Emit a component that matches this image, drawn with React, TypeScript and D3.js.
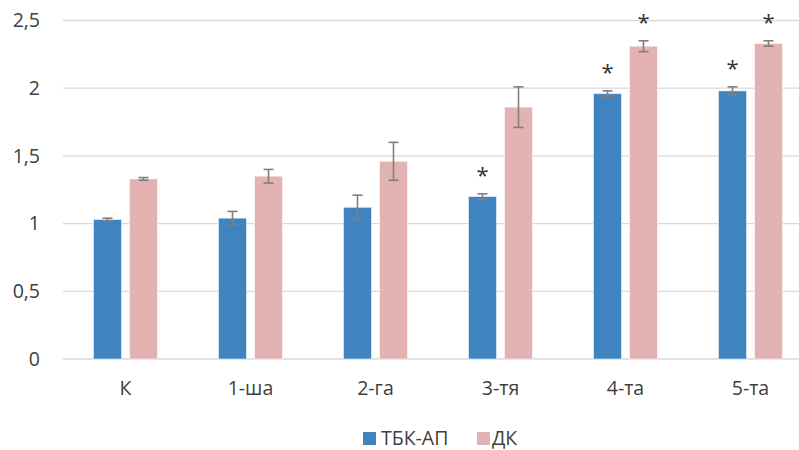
import React from "react";
import * as d3 from "d3";

const categories = ["К", "1-ша", "2-га", "3-тя", "4-та", "5-та"];
const seriesNames = ["ТБК-АП", "ДК"];
const tbkValues = [1.03, 1.04, 1.12, 1.2, 1.96, 1.98];
const tbkErrors = [0.01, 0.05, 0.09, 0.02, 0.02, 0.03];
const dkValues = [1.33, 1.35, 1.46, 1.86, 2.31, 2.33];
const dkErrors = [0.01, 0.05, 0.14, 0.15, 0.04, 0.02];
const tbkStars = [false, false, false, true, true, true];
const dkStars = [false, false, false, false, true, true];
const yTicks = [0, 0.5, 1, 1.5, 2, 2.5];
const tickLabels = ["0", "0,5", "1", "1,5", "2", "2,5"];

const colors = ["#3f83bf", "#e3b3b3"];
const font = "'Open Sans', sans-serif";
const fs = 19.5;

export default function App() {
  const width = 799,
    height = 450;
  const left = 63,
    right = 813,
    top = 20.5,
    bottom = 359;

  const x = d3.scaleBand().domain(categories).range([left, right]);
  const y = d3.scaleLinear().domain([0, 2.5]).range([bottom, top]);
  const barW = 28,
    gap = 8;

  const series = [
    { values: tbkValues, errors: tbkErrors, stars: tbkStars, off: -gap / 2 - barW },
    { values: dkValues, errors: dkErrors, stars: dkStars, off: gap / 2 },
  ];

  return (
    <svg
      width={width}
      height={height}
      style={{ position: "absolute", left: 0, top: 0, background: "#fff" }}
    >
      {yTicks.map((t) => (
        <line
          key={"g" + t}
          x1={left}
          x2={width}
          y1={y(t)}
          y2={y(t)}
          stroke="#d9d9d9"
          strokeWidth={1.3}
        />
      ))}
      {yTicks.map((t, i) => (
        <text
          key={"t" + t}
          x={40}
          y={y(t)}
          dy="0.35em"
          textAnchor="end"
          fontFamily={font}
          fontSize={fs}
          fill="#404040"
        >
          {tickLabels[i]}
        </text>
      ))}
      {series.map((s, si) =>
        categories.map((c, i) => {
          const cx = x(c)! + x.bandwidth() / 2;
          const bx = cx + s.off;
          const mid = bx + barW / 2;
          const v = s.values[i];
          const e = s.errors[i];
          return (
            <g key={si + c}>
              <rect
                x={bx}
                y={y(v)}
                width={barW}
                height={bottom - y(v)}
                fill={colors[si]}
                stroke="#ffffff"
                strokeOpacity={0.5}
                strokeWidth={1}
              />
              <g stroke="#7f7f7f" strokeWidth={1.6}>
                <line x1={mid} x2={mid} y1={y(v + e)} y2={y(v - e)} />
                <line x1={mid - 5} x2={mid + 5} y1={y(v + e)} y2={y(v + e)} />
                <line x1={mid - 5} x2={mid + 5} y1={y(v - e)} y2={y(v - e)} />
              </g>
              {s.stars[i] && (
                <text
                  x={mid}
                  y={y(v + e) - 27}
                  dy="0.72em"
                  textAnchor="middle"
                  fontFamily={font}
                  fontSize={22}
                  fill="#333"
                >
                  *
                </text>
              )}
            </g>
          );
        })
      )}
      {categories.map((c) => (
        <text
          key={"c" + c}
          x={x(c)! + x.bandwidth() / 2}
          y={388}
          dy="0.35em"
          textAnchor="middle"
          fontFamily={font}
          fontSize={fs}
          fill="#404040"
        >
          {c}
        </text>
      ))}
      <g>
        <rect x={363} y={432} width={13} height={13} fill={colors[0]} />
        <text x={381} y={444.5} fontFamily={font} fontSize={fs} fill="#404040">
          {seriesNames[0]}
        </text>
        <rect x={477} y={432} width={13} height={13} fill={colors[1]} />
        <text x={492} y={444.5} fontFamily={font} fontSize={fs} fill="#404040">
          {seriesNames[1]}
        </text>
      </g>
    </svg>
  );
}
